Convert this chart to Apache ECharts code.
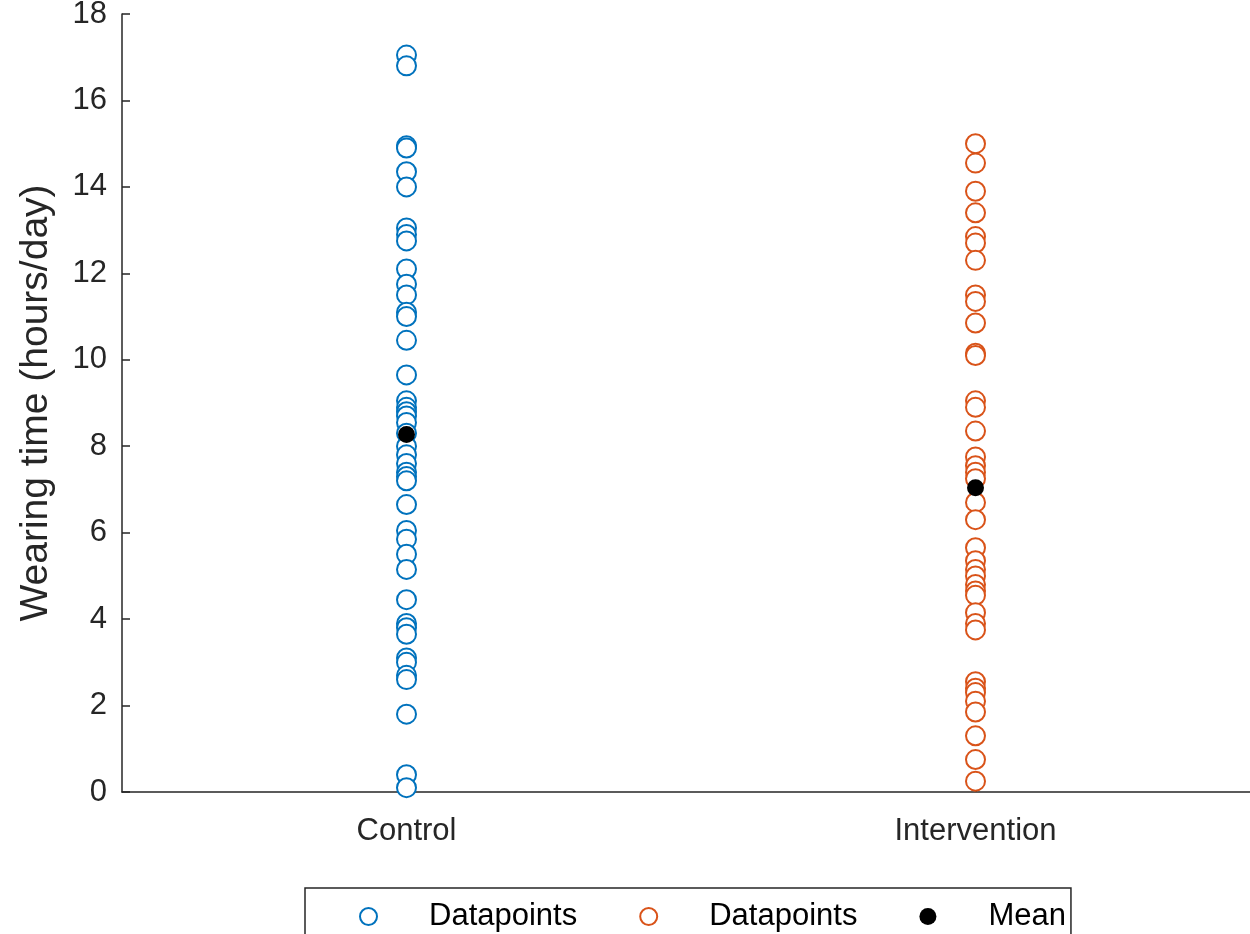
<!DOCTYPE html>
<html>
<head>
<meta charset="utf-8">
<script src="https://cdn.jsdelivr.net/npm/echarts@6/dist/echarts.min.js"></script>
<style>
  html, body { margin: 0; padding: 0; background: #fff; }
  #main { width: 1250px; height: 934px; }
</style>
</head>
<body>
<div id="main"></div>
<script>
var groups = ['Control', 'Intervention'];
var yTicks = [0, 2, 4, 6, 8, 10, 12, 14, 16, 18];

// wearing time (hours/day)
var controlValues = [17.05, 16.8, 14.95, 14.9, 14.35, 14.0, 13.05, 12.9, 12.75, 12.1,
  11.75, 11.5, 11.1, 11.0, 10.45, 9.65, 9.05, 8.9, 8.8, 8.7, 8.55, 8.3, 8.0, 7.8,
  7.6, 7.4, 7.3, 7.2, 6.65, 6.05, 5.85, 5.5, 5.15, 4.45, 3.9, 3.8, 3.65, 3.1, 3.0,
  2.7, 2.6, 1.8, 0.4, 0.1];
var interventionValues = [15.0, 14.55, 13.9, 13.4, 12.85, 12.7, 12.3, 11.5, 11.35,
  10.85, 10.15, 10.1, 9.05, 8.9, 8.35, 7.75, 7.55, 7.4, 7.25, 6.7, 6.3, 5.65, 5.35,
  5.15, 5.0, 4.8, 4.65, 4.55, 4.15, 3.9, 3.75, 2.55, 2.4, 2.3, 2.1, 1.85, 1.3, 0.75, 0.25];
var meanValues = [8.27, 7.04];

var chart = echarts.init(document.getElementById('main'));
var axisColor = '#262626';
var font = 'Liberation Sans, Arial, Helvetica, sans-serif';

var option = {
  animation: false,
  backgroundColor: '#fff',
  textStyle: { fontFamily: font },
  grid: {
    left: 122, top: 14, width: 1138, height: 778,
    outerBoundsMode: 'none'
  },
  xAxis: {
    type: 'value',
    min: 0.5, max: 2.5,
    splitLine: { show: false },
    axisLine: { lineStyle: { color: axisColor, width: 1.5 } },
    axisTick: { inside: true, length: 8, customValues: [1, 2], lineStyle: { color: axisColor, width: 1.5 } },
    axisLabel: {
      customValues: [1, 2],
      margin: 24,
      color: axisColor,
      fontSize: 31,
      fontFamily: font,
      formatter: function (v) { return groups[Math.round(v) - 1]; }
    }
  },
  yAxis: {
    type: 'value',
    min: 0, max: 18, interval: 2,
    name: 'Wearing time (hours/day)',
    nameLocation: 'middle',
    nameGap: 66,
    nameTextStyle: { color: axisColor, fontSize: 39, fontFamily: font },
    splitLine: { show: false },
    axisLine: { show: true, lineStyle: { color: axisColor, width: 1.5 } },
    axisTick: { inside: true, length: 8, lineStyle: { color: axisColor, width: 1.5 } },
    axisLabel: {
      margin: 15,
      color: axisColor,
      fontSize: 31,
      fontFamily: font,
      formatter: function (v) { return yTicks.indexOf(v) >= 0 ? String(v) : ''; }
    }
  },
  legend: {
    left: 305, top: 888,
    padding: [13, 5, 30, 54],
    borderColor: axisColor,
    borderWidth: 1.5,
    itemWidth: 17,
    itemHeight: 17,
    itemGap: 62,
    data: [
      { name: 'Control', icon: 'emptyCircle' },
      { name: 'Intervention', icon: 'emptyCircle' },
      { name: 'Mean', icon: 'circle' }
    ],
    formatter: function (name) { return name === 'Mean' ? 'Mean' : 'Datapoints'; },
    textStyle: { color: '#000', fontSize: 31, fontFamily: font, padding: [0, 0, 0, 47] }
  },
  series: [
    {
      name: 'Control',
      type: 'scatter',
      symbol: 'emptyCircle',
      symbolSize: 19,
      itemStyle: { color: '#0072BD', borderColor: '#0072BD', borderWidth: 1.6, opacity: 1 },
      data: controlValues.map(function (v) { return [1, v]; })
    },
    {
      name: 'Intervention',
      type: 'scatter',
      symbol: 'emptyCircle',
      symbolSize: 19,
      itemStyle: { color: '#D95319', borderColor: '#D95319', borderWidth: 1.6, opacity: 1 },
      data: interventionValues.map(function (v) { return [2, v]; })
    },
    {
      name: 'Mean',
      type: 'scatter',
      symbol: 'circle',
      symbolSize: 17,
      z: 5,
      itemStyle: { color: '#000', opacity: 1 },
      data: meanValues.map(function (v, i) { return [i + 1, v]; })
    }
  ]
};

chart.setOption(option);
</script>
</body>
</html>
